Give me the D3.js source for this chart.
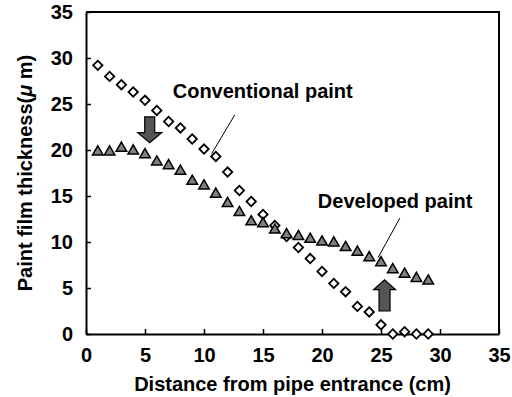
<!DOCTYPE html>
<html>
<head>
<meta charset="utf-8">
<script src="https://cdn.jsdelivr.net/npm/d3@7"></script>
<style>
  body { margin: 0; background: #fff; }
  text { font-family: "Liberation Sans", Arial, sans-serif; font-weight: bold; }
</style>
</head>
<body>
<div id="chart"></div>
<script>
// distance from pipe entrance (cm)
var distance = [1, 2, 3, 4, 5, 6, 7, 8, 9, 10, 11, 12, 13, 14, 15, 16, 17, 18, 19, 20, 21, 22, 23, 24, 25, 26, 27, 28, 29];
// film thickness (um)
var conventional = [29.2, 28.0, 27.1, 26.3, 25.4, 24.3, 23.1, 22.4, 21.2, 20.1, 19.3, 17.6, 15.6, 14.4, 13.0, 11.8, 10.6, 9.4, 8.2, 6.8, 5.5, 4.6, 3.0, 2.4, 1.0, 0.0, 0.25, 0.0, 0.0];
var developed = [19.8, 19.8, 20.2, 19.9, 19.5, 18.7, 18.3, 17.7, 16.6, 16.1, 15.2, 14.2, 13.2, 12.2, 12.0, 11.3, 10.8, 10.6, 10.3, 10.0, 9.9, 9.4, 8.9, 8.3, 7.75, 7.0, 6.5, 6.05, 5.76];
var xTicks = [0, 5, 10, 15, 20, 25, 30, 35];
var yTicks = [0, 5, 10, 15, 20, 25, 30, 35];

var width = 512, height = 397;
var margin = {top: 12, right: 13, bottom: 63, left: 86};
var w = width - margin.left - margin.right;
var h = height - margin.top - margin.bottom;

var svg = d3.select("#chart").append("svg")
    .attr("width", width)
    .attr("height", height);

var g = svg.append("g")
    .attr("transform", "translate(" + margin.left + "," + margin.top + ")");

var x = d3.scaleLinear().domain([0, 35]).range([0, w]);
var y = d3.scaleLinear().domain([0, 35]).range([h, 0]);

// frame (top + right)
g.append("path")
    .attr("d", "M0,0H" + w + "V" + h)
    .attr("fill", "none")
    .attr("stroke", "#000")
    .attr("stroke-width", 2);

var xAxis = g.append("g")
    .attr("transform", "translate(0," + h + ")")
    .call(d3.axisBottom(x).tickValues(xTicks).tickSizeInner(-5).tickSizeOuter(0).tickPadding(14));
var yAxis = g.append("g")
    .call(d3.axisLeft(y).tickValues(yTicks).tickSizeInner(-5).tickSizeOuter(0).tickPadding(13));

[xAxis, yAxis].forEach(function(a) {
  a.select(".domain").attr("stroke-width", 2);
  a.selectAll(".tick line").attr("stroke-width", 1.5);
  a.selectAll(".tick text")
    .style("font-size", "20px")
    .attr("fill", "#000");
});

var diamond = d3.symbol().type(d3.symbolSquare).size(44);
var triangle = d3.symbol().type(d3.symbolTriangle).size(48);

g.selectAll(".conv")
    .data(distance)
  .enter().append("path")
    .attr("class", "conv")
    .attr("d", diamond)
    .attr("transform", function(d, i) { return "translate(" + x(d) + "," + y(conventional[i]) + ") rotate(45)"; })
    .attr("fill", "#fff")
    .attr("stroke", "#000")
    .attr("stroke-width", 1.8);

g.selectAll(".dev")
    .data(distance)
  .enter().append("path")
    .attr("class", "dev")
    .attr("d", triangle)
    .attr("transform", function(d, i) { return "translate(" + x(d) + "," + y(developed[i]) + ")"; })
    .attr("fill", "#808080")
    .attr("stroke", "#000")
    .attr("stroke-width", 1.5);

// labels with leader lines
g.append("text")
    .attr("x", x(7.35)).attr("y", y(25.7))
    .style("font-size", "20px")
    .text("Conventional paint");
g.append("line")
    .attr("x1", x(12.6)).attr("y1", y(23.8))
    .attr("x2", x(10.65)).attr("y2", y(19.6))
    .attr("stroke", "#000").attr("stroke-width", 1);

g.append("text")
    .attr("x", x(19.65)).attr("y", y(13.7))
    .style("font-size", "20px")
    .text("Developed paint");
g.append("line")
    .attr("x1", x(26.6)).attr("y1", y(12.6))
    .attr("x2", x(24.75)).attr("y2", y(8.3))
    .attr("stroke", "#000").attr("stroke-width", 1);

// block arrows
function blockArrow(cx, yTail, yTip, shaftW, headW, headL) {
  var sx = x(cx), t = y(yTail), p = y(yTip);
  var dir = p > t ? 1 : -1;
  var base = p - dir * headL;
  var pts = [
    [sx - shaftW / 2, t], [sx + shaftW / 2, t], [sx + shaftW / 2, base],
    [sx + headW / 2, base], [sx, p], [sx - headW / 2, base], [sx - shaftW / 2, base]
  ];
  g.append("path")
    .attr("d", d3.line()(pts) + "Z")
    .attr("fill", "#555")
    .attr("stroke", "#000")
    .attr("stroke-width", 1.2);
}
blockArrow(5.4, 23.6, 20.8, 10, 24, 10);
blockArrow(25.3, 2.5, 5.9, 11, 22, 10);

// axis titles
svg.append("text")
    .attr("x", margin.left + w / 2).attr("y", 391)
    .attr("text-anchor", "middle")
    .style("font-size", "20px")
    .text("Distance from pipe entrance (cm)");
var yTitle = svg.append("text")
    .attr("transform", "translate(32," + (margin.top + h / 2) + ") rotate(-90)")
    .attr("text-anchor", "middle")
    .style("font-size", "20px");
yTitle.append("tspan").text("Paint film thickness(");
yTitle.append("tspan").style("font-style", "italic").text("μ");
yTitle.append("tspan").text(" m)");
</script>
</body>
</html>
